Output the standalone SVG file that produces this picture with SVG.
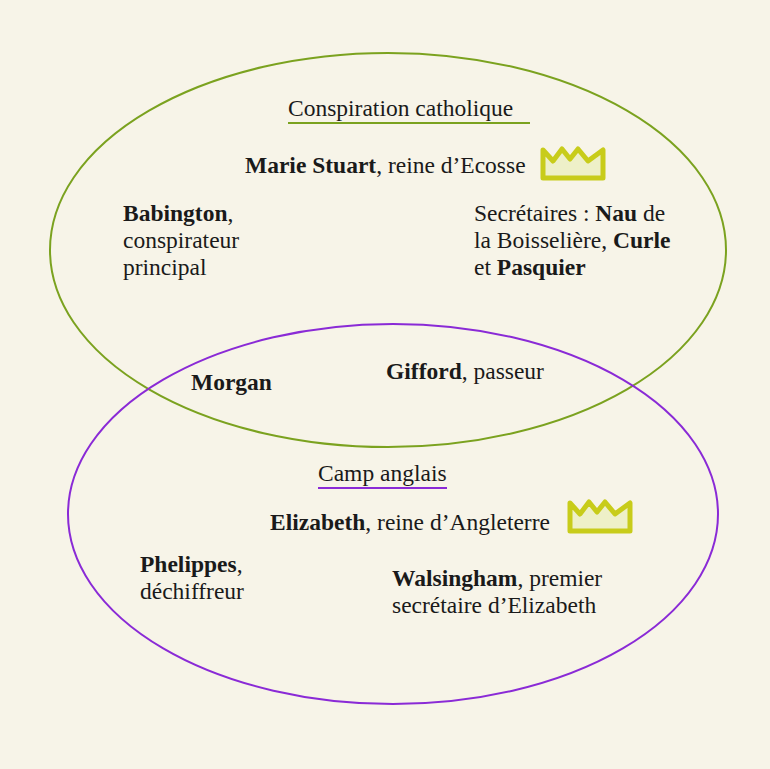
<svg xmlns="http://www.w3.org/2000/svg" width="770" height="769" viewBox="0 0 770 769">
<style>
text{font-family:"Liberation Serif",serif;font-size:23.5px;fill:#1a1a1a}
.b{font-weight:bold}
.crown{fill:#eef0c8;stroke:#c8cc1a;stroke-width:5;stroke-linejoin:round}
</style>
<defs><path id="cr" d="M0,3 L10,14 L19,2 L27,12 L35,2 L45,14 L60,3 L60,31 L0,31 Z"/></defs>
<rect width="770" height="769" fill="#f7f4e8"/>
<g id="connectors">
<ellipse cx="388" cy="250" rx="338" ry="197" fill="none" stroke="#7ba21f" stroke-width="2"/>
<ellipse cx="393" cy="514" rx="325" ry="190" fill="none" stroke="#8a2ad6" stroke-width="2"/>
<line x1="288" y1="123" x2="530" y2="123" stroke="#7ba21f" stroke-width="2"/>
<line x1="318" y1="488" x2="447" y2="488" stroke="#8a2ad6" stroke-width="2"/>
</g>
<g id="title1"><text x="288" y="116">Conspiration catholique</text></g>
<g id="marie"><text x="245" y="173"><tspan class="b">Marie Stuart</tspan>, reine d’Ecosse</text><use href="#cr" class="crown" x="543" y="147"/></g>
<g id="babington"><text x="123" y="221"><tspan class="b">Babington</tspan>,</text><text x="123" y="248">conspirateur</text><text x="123" y="275">principal</text></g>
<g id="secretaires"><text x="474" y="221">Secrétaires : <tspan class="b">Nau</tspan> de</text><text x="474" y="248">la Boisselière, <tspan class="b">Curle</tspan></text><text x="474" y="275">et <tspan class="b">Pasquier</tspan></text></g>
<g id="morgan"><text x="191" y="390" class="b">Morgan</text></g>
<g id="gifford"><text x="386" y="379"><tspan class="b">Gifford</tspan>, passeur</text></g>
<g id="title2"><text x="318" y="481">Camp anglais</text></g>
<g id="elizabeth"><text x="270" y="530"><tspan class="b">Elizabeth</tspan>, reine d’Angleterre</text><use href="#cr" class="crown" x="570" y="500"/></g>
<g id="phelippes"><text x="140" y="572"><tspan class="b">Phelippes</tspan>,</text><text x="140" y="599">déchiffreur</text></g>
<g id="walsingham"><text x="392" y="586"><tspan class="b">Walsingham</tspan>, premier</text><text x="392" y="613">secrétaire d’Elizabeth</text></g>
</svg>
